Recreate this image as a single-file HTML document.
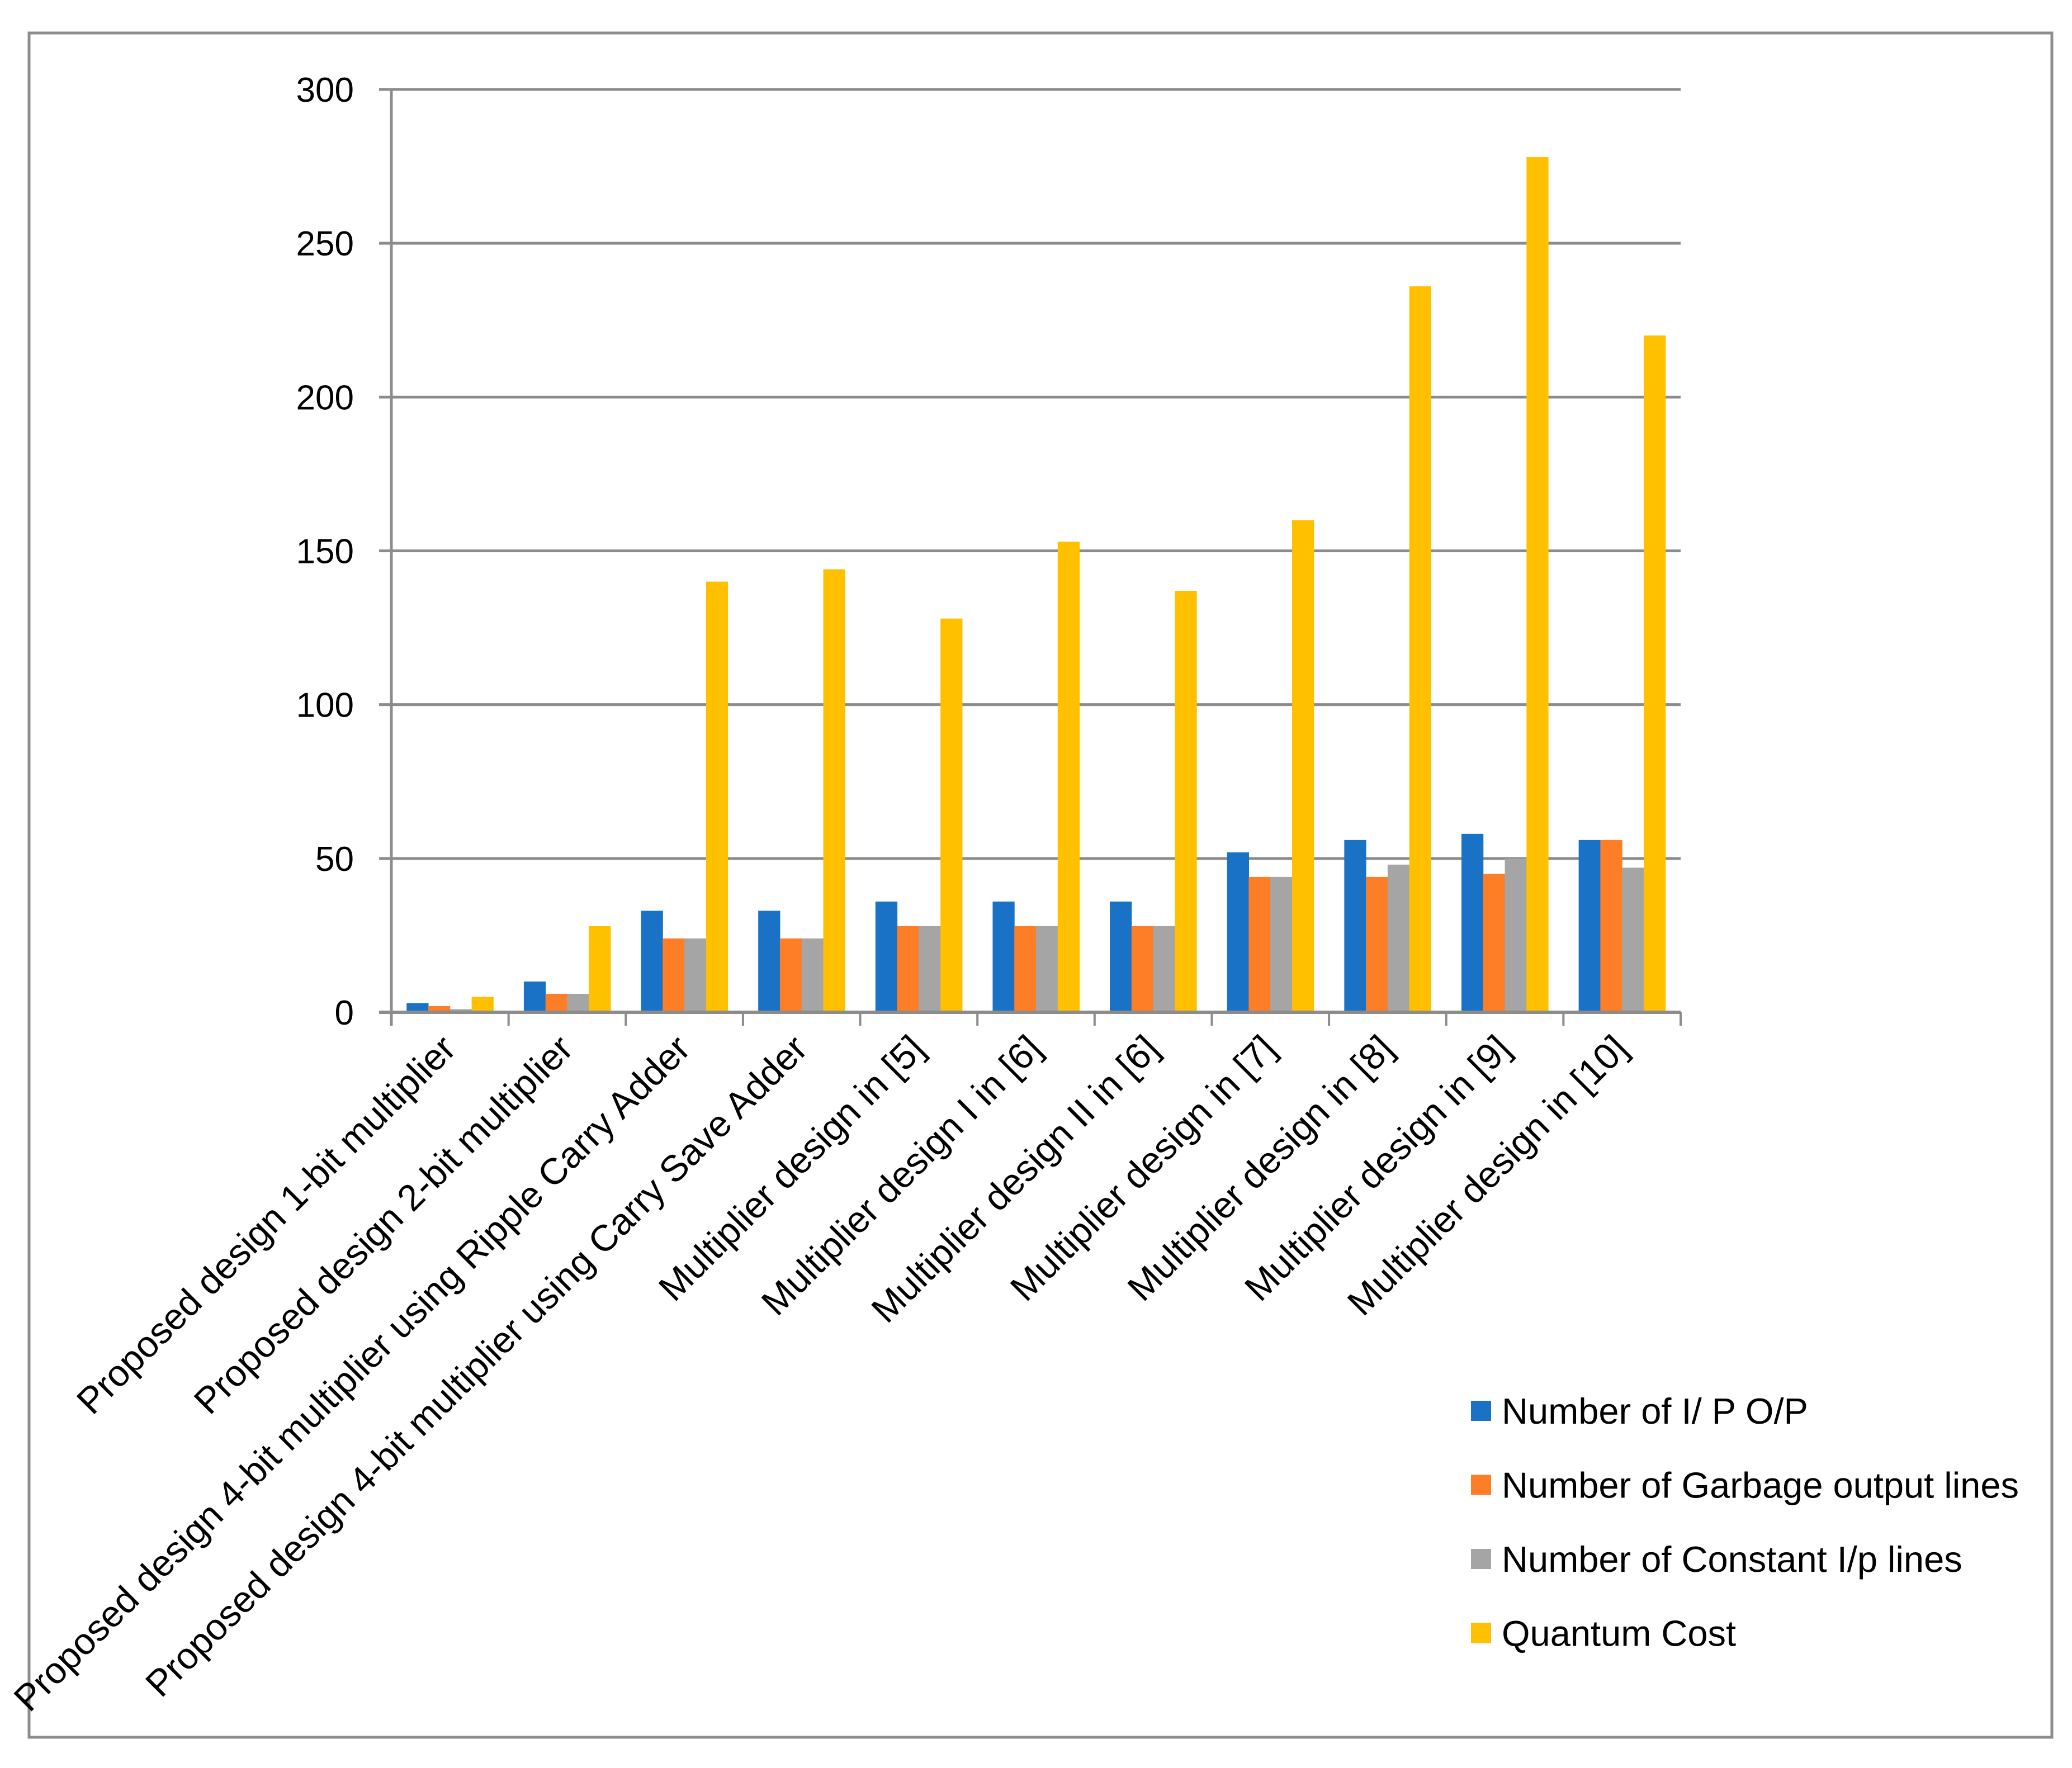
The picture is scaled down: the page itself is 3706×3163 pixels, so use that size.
<!DOCTYPE html>
<html><head><meta charset="utf-8"><style>
html,body{margin:0;padding:0;background:#fff;}
svg{display:block;font-family:"Liberation Sans",sans-serif;}
</style></head><body>
<svg id="chart" width="3706" height="3163" viewBox="0 0 3706 3163" xmlns="http://www.w3.org/2000/svg">
<rect x="52" y="59" width="3618" height="3049" fill="#fff" stroke="#8c8c8c" stroke-width="5"/>
<g id="grid"></g><g id="bars"></g><g id="axes"></g><g id="labels"></g><g id="legend"></g>
</svg>
<script>
const categories = ["Proposed design 1-bit multiplier","Proposed design 2-bit multiplier","Proposed design 4-bit multiplier using Ripple Carry Adder","Proposed design 4-bit multiplier using Carry Save Adder","Multiplier design in [5]","Multiplier design I  in [6]","Multiplier design II in [6]","Multiplier design in [7]","Multiplier design in [8]","Multiplier design in [9]","Multiplier design in [10]"];
const ioValues = [3,10,33,33,36,36,36,52,56,58,56];
const garbageValues = [2,6,24,24,28,28,28,44,44,45,56];
const constantValues = [1,6,24,24,28,28,28,44,48,50,47];
const quantumValues = [5,28,140,144,128,153,137,160,236,278,220];
const seriesNames = ["Number of I/ P O/P","Number of Garbage output lines","Number of Constant  I/p lines","Quantum Cost"];
const yTicks = [0,50,100,150,200,250,300];

const NS="http://www.w3.org/2000/svg";
const seriesList=[ioValues,garbageValues,constantValues,quantumValues];
const colors=["#1a72c6","#fd7e26","#a5a5a5","#ffc000"];
const X0=700,X1=3006,Y0=1811,Ytop=160,YMAX=300;
const yS=v=>Y0-(v/YMAX)*(Y0-Ytop);
const catW=(X1-X0)/categories.length;
const barW=catW*0.185, gapOff=(catW-4*barW)/2;
function mk(tag,attrs,parent){const e=document.createElementNS(NS,tag);for(const k in attrs)e.setAttribute(k,attrs[k]);parent.appendChild(e);return e;}
const grid=document.getElementById('grid'),bars=document.getElementById('bars'),axes=document.getElementById('axes'),labels=document.getElementById('labels'),legend=document.getElementById('legend');
yTicks.forEach(t=>{
  const l=mk('line',{x1:X0-22,x2:X1,y1:yS(t),y2:yS(t),stroke:'#8c8c8c','stroke-width':5},grid);
  
  
  const tx=mk('text',{x:633,y:yS(t)+22,'text-anchor':'end','font-size':62,fill:'#000'},labels);
  tx.textContent=t;
  
  
});
seriesList.forEach((vals,s)=>{
  vals.forEach((v,i)=>{
    const x=X0+i*catW+gapOff+s*barW;
    const r=mk('rect',{x:x,y:yS(v),width:barW+0.5,height:Y0-yS(v),fill:colors[s]},bars);
    
    
  });
});
const ax=mk('line',{x1:X0,x2:X0,y1:Ytop,y2:Y0+24,stroke:'#8c8c8c','stroke-width':5},axes);


const xa=mk('line',{x1:X0-22,x2:X1,y1:Y0,y2:Y0,stroke:'#8c8c8c','stroke-width':6},axes);


for(let i=1;i<=categories.length;i++){
  const tk=mk('line',{x1:X0+i*catW,x2:X0+i*catW,y1:Y0,y2:Y0+24,stroke:'#8c8c8c','stroke-width':4},axes);
  
  
}
categories.forEach((c,i)=>{
  const cx=X0+(i+0.5)*catW+14, cy=1880;
  const t=mk('text',{x:cx,y:cy,'text-anchor':'end','font-size':66,fill:'#000',transform:`rotate(-45 ${cx} ${cy})`},labels);
  t.textContent=c;
  
  
});
seriesNames.forEach((n,s)=>{
  const cy=2524+s*132.5;
  const sq=mk('rect',{x:2631,y:cy-18,width:36,height:36,fill:colors[s]},legend);
  
  
  const t=mk('text',{x:2686,y:cy+23,'font-size':65,fill:'#000'},legend);
  t.textContent=n;
  
  
});
</script>
</body></html>
